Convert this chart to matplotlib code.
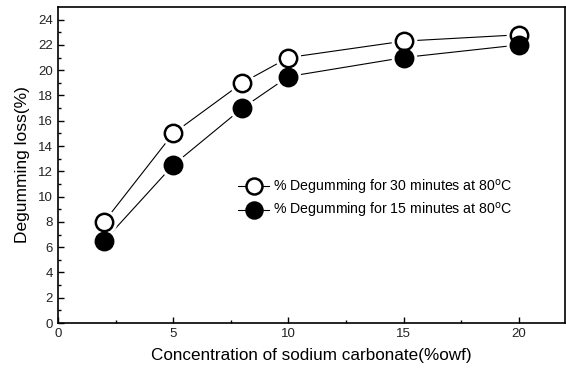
import matplotlib
matplotlib.use("Agg")
import matplotlib.pyplot as plt
from matplotlib.lines import Line2D

plt.rcParams["font.family"] = ["Liberation Sans", "DejaVu Sans"]

concentration = [2, 5, 8, 10, 15, 20]
loss_30min = [8.0, 15.0, 19.0, 21.0, 22.3, 22.8]
loss_15min = [6.5, 12.5, 17.0, 19.5, 21.0, 22.0]

fig = plt.figure(figsize=(5.66, 3.72), dpi=100)
ax = fig.add_axes([58 / 566, 1 - 323 / 372, 507 / 566, 316 / 372])

ms = 12.5
for y, face in [(loss_30min, "white"), (loss_15min, "black")]:
    ax.plot(concentration, y, color="black", lw=0.8, zorder=1)
    # white halo so the connecting line stops short of the marker
    ax.plot(concentration, y, ls="none", marker="o", ms=ms + 5,
            mfc="white", mec="white", zorder=2)
    ax.plot(concentration, y, ls="none", marker="o", ms=ms,
            mfc=face, mec="black", mew=1.8, zorder=3)

ax.set_xlim(0, 22)
ax.set_ylim(0, 25)
ax.set_xticks(range(0, 21, 5))
ax.set_xticks([2.5, 7.5, 12.5, 17.5], minor=True)
ax.set_yticks(range(0, 25, 2))
ax.set_yticks(range(1, 25, 2), minor=True)
ax.tick_params(direction="in", labelsize=9.5, length=4, width=1,
               labelcolor="#222222")
ax.tick_params(which="minor", direction="in", length=2.5, width=1)
for side in ax.spines.values():
    side.set_linewidth(1.2)

ax.set_xlabel("Concentration of sodium carbonate(%owf)", fontsize=12.3, labelpad=6)
ax.set_ylabel("Degumming loss(%)", fontsize=12.5, labelpad=6)

handles = [
    Line2D([], [], color="black", lw=0.8, marker="o", ms=ms - 1, mfc="white",
           mec="black", mew=1.8),
    Line2D([], [], color="black", lw=0.8, marker="o", ms=ms - 1, mfc="black",
           mec="black", mew=1.8),
]
labels = ["% Degumming for 30 minutes at 80$^{\\rm o}$C",
          "% Degumming for 15 minutes at 80$^{\\rm o}$C"]
ax.legend(handles, labels, loc="upper left", bbox_to_anchor=(0.33, 0.5),
          frameon=False, fontsize=10.2, handlelength=2.2, handletextpad=0.3,
          labelspacing=0.3)

fig.savefig("out.png", dpi=100)
